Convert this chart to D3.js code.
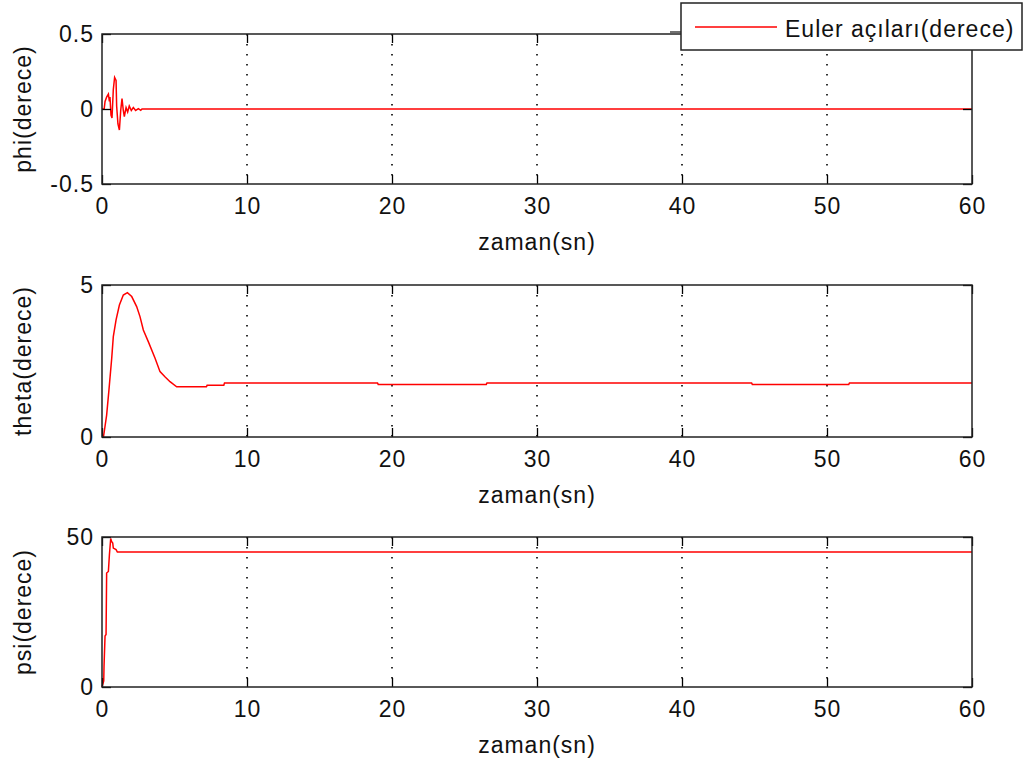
<!DOCTYPE html>
<html>
<head>
<meta charset="utf-8">
<script src="https://cdn.jsdelivr.net/npm/d3@7"></script>
<style>
    body { margin: 0; background: #fff; }
    svg { display: block; font-family: "Liberation Sans", Arial, sans-serif; }
    svg text { letter-spacing: 1px; }
</style>
</head>
<body>
<svg id="chart" width="1024" height="765"></svg>
<script>
const timeTicks = [0, 10, 20, 30, 40, 50, 60];

// phi - small oscillation at the start, then 0
const phiTime = [0, 0.15, 0.21, 0.32, 0.44, 0.51, 0.55, 0.62, 0.69, 0.78, 0.87, 0.97, 1.01, 1.10, 1.20, 1.29, 1.38, 1.47, 1.54, 1.66, 1.77, 1.88, 2.02, 2.16, 2.32, 2.51, 2.67, 2.76, 60];
const phiValue = [0, 0, 0.05, 0.08, 0.10, 0.05, 0.08, -0.04, -0.06, 0.13, 0.21, 0.19, 0.02, -0.10, -0.14, -0.01, 0.07, -0.01, -0.05, 0.01, -0.02, 0.02, -0.01, 0.01, -0.01, 0.002, -0.009, 0, 0];
const phiTicks = [-0.5, 0, 0.5];

// theta - overshoot then settles around 1.78
const thetaTime = [0, 0.1, 0.32, 0.48, 0.67, 0.78, 0.97, 1.2, 1.47, 1.75, 2.05, 2.39, 2.62, 2.85, 3.2, 3.66, 4.0, 4.34, 4.69, 5.15, 7.2, 7.25, 8.4, 8.45, 19.0, 19.05, 26.5, 26.55, 44.8, 44.85, 51.5, 51.55, 60];
const thetaValue = [0, 0, 0.72, 1.55, 2.59, 3.3, 3.85, 4.34, 4.67, 4.75, 4.62, 4.29, 3.96, 3.52, 3.13, 2.59, 2.15, 1.98, 1.82, 1.65, 1.65, 1.7, 1.7, 1.78, 1.78, 1.73, 1.73, 1.78, 1.78, 1.73, 1.73, 1.78, 1.78];
const thetaTicks = [0, 5];

// psi - fast rise to 45
const psiTime = [0, 0.12, 0.14, 0.21, 0.28, 0.32, 0.44, 0.51, 0.6, 0.66, 0.74, 0.78, 0.97, 1.06, 60];
const psiValue = [0, 2, 7, 17, 17.5, 38, 38.5, 44, 49.5, 48.5, 48, 46.3, 45.8, 45, 45];
const psiTicks = [0, 50];

const panels = [
    { label: "phi(derece)", time: phiTime, value: phiValue, ticks: phiTicks, top: 34, bottom: 184 },
    { label: "theta(derece)", time: thetaTime, value: thetaValue, ticks: thetaTicks, top: 285, bottom: 437 },
    { label: "psi(derece)", time: psiTime, value: psiValue, ticks: psiTicks, top: 537, bottom: 687 }
];

const left = 102, right = 972;
const font_size = 23;
const tick_len = 9;
const fmt = d => String(d);   // plain "-0.5", "0", "5" like matlab

const svg = d3.select("#chart");

const scaleX = d3.scaleLinear().domain(d3.extent(timeTicks)).range([left, right]);

function styleAxis(g) {
    g.select(".domain").remove();
    g.attr("font-size", font_size)
        .attr("font-family", "Liberation Sans, Arial, sans-serif");
    g.selectAll("line").attr("stroke", "#000").attr("stroke-width", 1.3);
    g.selectAll("text").attr("fill", "#111");
}

panels.forEach(p => {
    const scaleY = d3.scaleLinear()
        .domain(d3.extent(p.ticks))
        .range([p.bottom, p.top]);

    const g = svg.append("g");

    // dotted x grid
    g.append("g")
        .selectAll("line")
        .data(timeTicks.slice(1, -1)).enter()
        .append("line")
        .attr("x1", d => scaleX(d)).attr("x2", d => scaleX(d))
        .attr("y1", p.top).attr("y2", p.bottom)
        .attr("stroke", "#000")
        .attr("stroke-width", 1.6)
        .attr("stroke-dasharray", "1.6,8.4");

    const points = p.time.map((t, i) => [t, p.value[i]]);
    const line = d3.line()
        .x(d => scaleX(d[0]))
        .y(d => scaleY(d[1]));

    g.append("path")
        .datum(points)
        .attr("d", line)
        .attr("fill", "none")
        .attr("stroke", "#ff0000")
        .attr("stroke-width", 1.5);

    // axes, ticks pointing in
    g.append("g")
        .attr("transform", "translate(0," + p.bottom + ")")
        .call(d3.axisBottom(scaleX).tickValues(timeTicks).tickFormat(fmt).tickSizeInner(-tick_len).tickSizeOuter(0).tickPadding(14))
        .call(styleAxis);

    g.append("g")
        .attr("transform", "translate(0," + p.top + ")")
        .call(d3.axisTop(scaleX).tickValues(timeTicks).tickSizeInner(-tick_len).tickSizeOuter(0).tickFormat(""))
        .call(styleAxis);

    g.append("g")
        .attr("transform", "translate(" + left + ",0)")
        .call(d3.axisLeft(scaleY).tickValues(p.ticks).tickFormat(fmt).tickSizeInner(-tick_len).tickSizeOuter(0).tickPadding(8))
        .call(styleAxis);

    g.append("g")
        .attr("transform", "translate(" + right + ",0)")
        .call(d3.axisRight(scaleY).tickValues(p.ticks).tickSizeInner(-tick_len).tickSizeOuter(0).tickFormat(""))
        .call(styleAxis);

    g.append("rect")
        .attr("x", left).attr("y", p.top)
        .attr("width", right - left).attr("height", p.bottom - p.top)
        .attr("fill", "none")
        .attr("stroke", "#222")
        .attr("stroke-width", 1.5);

    g.append("text")
        .attr("text-anchor", "middle")
        .attr("x", (left + right) / 2)
        .attr("y", p.bottom + 66)
        .attr("font-size", font_size)
        .attr("fill", "#111")
        .text("zaman(sn)");

    g.append("text")
        .attr("text-anchor", "middle")
        .attr("transform", "translate(31," + (p.top + p.bottom) / 2 + ") rotate(-90)")
        .attr("font-size", font_size)
        .attr("fill", "#111")
        .text(p.label);
});

// legend
const legend = svg.append("g");
legend.append("line")
    .attr("x1", 670).attr("x2", 681)
    .attr("y1", 32).attr("y2", 32)
    .attr("stroke", "#222").attr("stroke-width", 1.3);
legend.append("rect")
    .attr("x", 681).attr("y", 3)
    .attr("width", 341).attr("height", 47)
    .attr("fill", "#fff")
    .attr("stroke", "#222")
    .attr("stroke-width", 1.5);
legend.append("line")
    .attr("x1", 695).attr("x2", 777)
    .attr("y1", 27).attr("y2", 27)
    .attr("stroke", "#ff0000").attr("stroke-width", 1.5);
legend.append("text")
    .attr("x", 785).attr("y", 37)
    .attr("font-size", font_size)
    .attr("fill", "#111")
    .text("Euler açıları(derece)");
</script>
</body>
</html>
